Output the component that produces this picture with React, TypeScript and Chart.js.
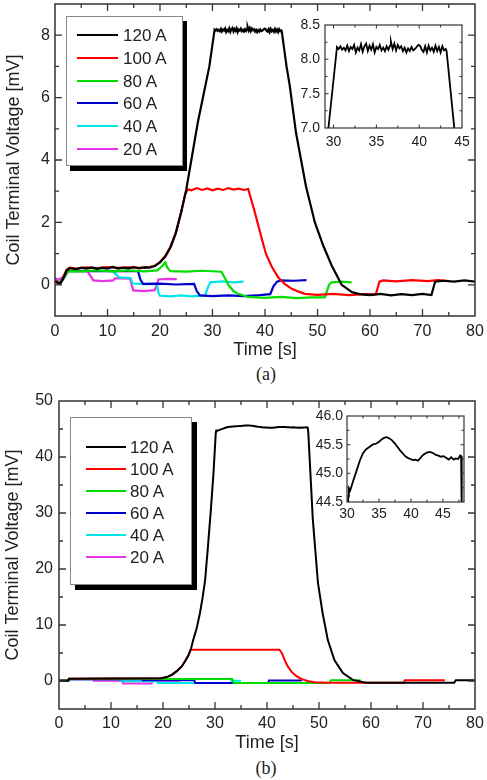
import React, { useEffect, useRef } from "react";
import { Chart, registerables } from "chart.js";
Chart.register(...registerables);

type P = [number, number];

const SERIES_NAMES = ["120 A", "100 A", "80 A", "60 A", "40 A", "20 A"];
const SERIES_COLORS = ["#000000", "#ff0000", "#00dd00", "#0000cc", "#00e5e5", "#e633e6"];

// ---------- panel (a) ----------
const A_120: P[] = [
  [0, 0.12], [0.5, 0.06], [1.0, 0.04], [1.5, 0.18], [2.2, 0.45], [2.8, 0.53], [4, 0.5], [5, 0.55], [6, 0.52],
  [7, 0.56], [8, 0.51], [9, 0.55], [10, 0.52], [11, 0.57], [12, 0.52], [13, 0.55], [14, 0.53], [15, 0.57],
  [16, 0.53], [17, 0.56], [18, 0.55], [19, 0.6], [20, 0.72], [21, 0.9], [22, 1.2], [23, 1.65], [24, 2.3],
  [25, 3.05], [27.2, 5.2], [29.4, 7.0], [30.4, 8.18], [30.6, 8.15], [30.8, 8.19], [31.0, 8.14], [31.2, 8.17],
  [31.4, 8.13], [31.6, 8.2], [31.8, 8.12], [32.0, 8.18], [32.2, 8.15], [32.4, 8.21], [32.6, 8.1], [32.8, 8.17],
  [33.0, 8.13], [33.2, 8.22], [33.4, 8.11], [33.6, 8.19], [33.8, 8.23], [34.0, 8.12], [34.2, 8.2], [34.4, 8.14],
  [34.6, 8.22], [34.8, 8.1], [35.0, 8.18], [35.2, 8.15], [35.4, 8.21], [35.6, 8.13], [35.8, 8.17], [36.0, 8.12],
  [36.2, 8.19], [36.4, 8.14], [36.6, 8.2], [36.7, 8.26], [36.9, 8.15], [37.1, 8.23], [37.3, 8.13], [37.5, 8.21],
  [37.7, 8.16], [37.9, 8.19], [38.1, 8.12], [38.3, 8.17], [38.5, 8.1], [38.7, 8.16], [38.9, 8.12], [39.1, 8.18],
  [39.3, 8.13], [39.5, 8.15], [39.7, 8.18], [39.9, 8.21], [40.1, 8.2], [40.3, 8.14], [40.5, 8.11], [40.7, 8.19],
  [40.9, 8.1], [41.1, 8.2], [41.3, 8.13], [41.5, 8.17], [41.7, 8.11], [41.9, 8.2], [42.1, 8.12], [42.3, 8.18],
  [42.5, 8.1], [42.7, 8.19], [42.9, 8.13], [43.1, 8.15], [43.2, 8.12], [44.1, 7.0], [44.7, 6.4], [45.9, 4.88],
  [47.8, 3.16], [49.5, 2.0], [51.1, 1.25], [52.7, 0.62], [54.6, 0.0], [56.5, -0.23], [58, -0.3], [60, -0.33],
  [62, -0.29], [64, -0.34], [66, -0.3], [68, -0.33], [70, -0.29], [71.7, -0.33], [72.4, 0.1], [74, 0.13],
  [76, 0.1], [78, 0.14], [80, 0.1],
];
const A_100: P[] = [
  [0, 0.15], [0.5, 0.1], [1.0, 0.06], [1.5, 0.22], [2.2, 0.48], [2.8, 0.55], [4, 0.52], [6, 0.56], [8, 0.53],
  [10, 0.57], [12, 0.54], [14, 0.56], [16, 0.54], [18, 0.57], [19, 0.61], [20, 0.73], [21, 0.92], [22, 1.22],
  [23, 1.67], [24, 2.32], [24.8, 2.9], [25.3, 3.06], [26, 3.03], [27, 3.1], [28, 3.04], [29, 3.09], [30, 3.03],
  [31, 3.08], [32, 3.04], [33, 3.1], [34, 3.05], [35, 3.08], [36, 3.04], [36.8, 3.07], [38.1, 2.3], [39.4, 1.47],
  [40.2, 0.98], [41.3, 0.58], [42.5, 0.24], [43.8, 0.02], [45.1, -0.13], [46.4, -0.22], [47.6, -0.29],
  [50, -0.32], [53, -0.29], [56, -0.33], [59, -0.3], [61.1, -0.31], [61.8, 0.1], [62.5, 0.14], [65, 0.11],
  [68, 0.15], [71, 0.12], [73, 0.15], [75, 0.12],
];
const A_80: P[] = [
  [0, 0.1], [1, 0.04], [1.6, 0.2], [2.5, 0.44], [5, 0.43], [8, 0.46], [11, 0.43], [14, 0.46], [17, 0.43],
  [19.5, 0.46], [20.5, 0.62], [21, 0.72], [21.4, 0.55], [22, 0.44], [25, 0.42], [28, 0.45], [31.7, 0.42],
  [32.4, 0.2], [33, 0.0], [34, -0.2], [34.9, -0.29], [36.8, -0.39], [40, -0.42], [43, -0.39], [46, -0.43],
  [49, -0.4], [51.4, -0.4], [52.2, 0.0], [52.7, 0.08], [54.5, 0.1], [56.5, 0.08],
];
const A_60: P[] = [
  [0, 0.1], [1, 0.05], [1.6, 0.2], [2.5, 0.44], [15.8, 0.44], [16.3, 0.15], [16.8, 0.03], [20, 0.04],
  [23, 0.01], [26.5, 0.03], [27, -0.2], [27.6, -0.34], [30, -0.36], [33, -0.34], [36, -0.36], [39, -0.33],
  [41, -0.3], [41.6, -0.05], [42.3, 0.1], [43, 0.14], [45.5, 0.13], [47.9, 0.15],
];
const A_40: P[] = [
  [0, 0.15], [1, 0.1], [1.6, 0.25], [2.5, 0.45], [11, 0.45], [11.5, 0.35], [12.2, 0.24], [14.4, 0.22],
  [14.8, 0.04], [17, 0.02], [19.4, 0.03], [19.7, -0.25], [20, -0.35], [22, -0.37], [24, -0.34], [26, -0.37],
  [28.6, -0.34], [29.2, -0.05], [29.6, 0.08], [32, 0.11], [34, 0.08], [35.9, 0.1],
];
const A_20: P[] = [
  [0, 0.2], [0.8, 0.17], [1.5, 0.25], [2.5, 0.45], [6.2, 0.44], [6.5, 0.35], [7.3, 0.14], [9, 0.12],
  [11.1, 0.14], [11.4, 0.21], [14.3, 0.2], [14.6, 0.0], [14.9, -0.18], [17, -0.2], [19, -0.17], [19.4, 0.0],
  [19.7, 0.17], [21.5, 0.19], [23.2, 0.18],
];

// ---------- panel (b) ----------
const B_120: P[] = [
  [0, 0.05], [1.7, 0.05], [1.9, 0.4], [10, 0.45], [19.7, 0.5], [20.7, 0.7], [21.7, 1.1], [22.7, 1.8],
  [23.6, 2.6], [24.3, 3.6], [24.9, 4.6], [25.4, 5.8], [25.8, 7.3], [26.5, 9.5], [27.1, 12.1], [27.6, 14.8],
  [28.1, 18], [28.6, 23.5], [29.2, 30.5], [29.7, 37], [30.15, 44.3], [30.2, 44.6], [30.3, 44.74], [30.5, 44.7],
  [31.0, 44.88], [31.45, 45.03], [32.0, 45.22], [32.5, 45.35], [33.0, 45.42], [33.5, 45.46], [34.0, 45.5],
  [34.6, 45.52], [35.0, 45.55], [35.4, 45.59], [35.8, 45.62], [36.2, 45.63], [36.6, 45.61], [37.0, 45.58],
  [37.5, 45.52], [37.9, 45.46], [38.3, 45.4], [38.7, 45.35], [39.1, 45.3], [39.5, 45.27], [39.9, 45.25],
  [40.3, 45.23], [40.7, 45.24], [41.1, 45.22], [41.5, 45.27], [41.9, 45.32], [42.3, 45.35], [42.7, 45.37],
  [43.1, 45.37], [43.5, 45.35], [43.9, 45.32], [44.3, 45.31], [44.7, 45.29], [45.1, 45.3], [45.5, 45.27],
  [45.9, 45.24], [46.3, 45.28], [46.7, 45.24], [47.0, 45.26], [47.4, 45.25], [47.7, 45.31], [47.85, 45.3],
  [47.95, 44.2], [48.8, 29], [49.8, 17.5], [50.7, 12.1], [51.7, 7.3], [52.96, 3.75], [54.6, 1.4], [56.5, 0.2],
  [59, -0.3], [76, -0.3], [76.3, 0.15], [80, 0.15],
];
const B_100: P[] = [
  [0, 0.05], [1.7, 0.05], [1.9, 0.4], [10, 0.45], [19.7, 0.5], [20.7, 0.7], [21.7, 1.1], [22.7, 1.8],
  [23.6, 2.6], [24.3, 3.6], [24.9, 4.6], [25.3, 5.6], [33, 5.6], [42.4, 5.6], [42.9, 4.9], [43.4, 3.75],
  [44.0, 2.6], [44.7, 1.67], [45.6, 0.9], [46.6, 0.36], [47.8, 0.0], [49.2, -0.24], [52, -0.3], [66.3, -0.3],
  [66.5, 0.15], [74.2, 0.15],
];
const B_80: P[] = [
  [0, 0.1], [1.8, 0.1], [2.0, 0.35], [20, 0.35], [33.3, 0.35], [33.6, -0.35], [52, -0.35], [52.3, 0.15], [58, 0.15],
];
const B_60: P[] = [
  [0, 0.1], [1.8, 0.1], [2.0, 0.3], [15.9, 0.3], [16.1, 0.15], [26, 0.15], [26.2, -0.35], [40.2, -0.35],
  [40.4, 0.1], [46.7, 0.1],
];
const B_40: P[] = [
  [0, 0.05], [1.9, 0.05], [2.1, 0.3], [11.8, 0.3], [12.0, -0.05], [18.8, -0.05], [19.0, -0.35], [33.0, -0.35],
  [33.2, 0.05], [35, 0.05],
];
const B_20: P[] = [
  [0, 0], [1.9, 0], [2.1, 0.3], [6.5, 0.3], [6.7, 0.05], [12.1, 0.05], [12.3, -0.45], [17.8, -0.45],
  [18.0, 0.05], [23.2, 0.05],
];

// ---------- ticks ----------
const MAIN_X_MAJOR = [0, 10, 20, 30, 40, 50, 60, 70, 80];
const MAIN_X_MINOR = [5, 15, 25, 35, 45, 55, 65, 75];
const A_Y_MAJOR = [0, 2, 4, 6, 8];
const A_Y_MINOR = [1, 3, 5, 7];
const AI_X_MAJOR = [30, 35, 40, 45];
const AI_X_MINOR = [32.5, 37.5, 42.5];
const AI_Y_MAJOR = [7.0, 7.5, 8.0, 8.5];
const AI_Y_MINOR = [7.25, 7.75, 8.25];
const B_Y_MAJOR = [0, 10, 20, 30, 40, 50];
const B_Y_MINOR = [5, 15, 25, 35, 45];
const BI_X_MAJOR = [30, 35, 40, 45];
const BI_X_MINOR = [32.5, 37.5, 42.5, 47.5];
const BI_Y_MAJOR = [44.5, 45.0, 45.5, 46.0];
const BI_Y_MINOR = [44.75, 45.25, 45.75];

const FONT = "'Liberation Sans', Arial, Helvetica, sans-serif";
const TEXT = "#222";
Chart.defaults.font.family = FONT;

interface AxisSpec {
  min: number; max: number; major: number[]; minor: number[]; dec: number;
  size: number; pad: number; fit: number; title?: string; titlePad?: number;
}

function makeScale(axis: "x" | "y", s: AxisSpec): any {
  return {
    type: "linear",
    position: axis === "x" ? "bottom" : "left",
    min: s.min,
    max: s.max,
    grid: { display: false, drawTicks: false },
    border: { display: false },
    afterBuildTicks: (sc: any) => {
      sc.ticks = [...s.major, ...s.minor].sort((a, b) => a - b).map((v) => ({ value: v }));
    },
    afterFit: (sc: any) => {
      if (axis === "x") sc.height = s.fit;
      else sc.width = s.fit;
      sc.paddingTop = 0; sc.paddingBottom = 0; sc.paddingLeft = 0; sc.paddingRight = 0;
    },
    ticks: {
      autoSkip: false, maxRotation: 0, minRotation: 0, padding: s.pad, color: TEXT,
      font: { size: s.size },
      callback: (v: number) => (s.major.includes(v) ? v.toFixed(s.dec) : ""),
    },
    title: s.title
      ? { display: true, text: s.title, color: TEXT, font: { size: 18 }, padding: { top: s.titlePad ?? 0, bottom: s.titlePad ?? 0 } }
      : { display: false },
  };
}

function framePlugin(major: number, minor: number, lw: number, bg: boolean) {
  return {
    id: "frameTicks",
    beforeDatasetsDraw(chart: any) {
      if (!bg) return;
      const a = chart.chartArea;
      const ctx = chart.ctx;
      ctx.save();
      ctx.fillStyle = "#ffffff";
      ctx.fillRect(a.left, a.top, a.right - a.left, a.bottom - a.top);
      ctx.restore();
    },
    afterDatasetsDraw(chart: any) {
      const { ctx, chartArea: a, scales } = chart;
      ctx.save();
      ctx.strokeStyle = "#333";
      ctx.lineWidth = lw * 0.85;
      ctx.beginPath();
      const xs = scales.x, ys = scales.y;
      for (const t of xs.ticks) {
        const p = xs.getPixelForValue(t.value);
        if (p <= a.left + 1 || p >= a.right - 1) continue;
        const L = t.label ? major : minor;
        ctx.moveTo(p, a.bottom); ctx.lineTo(p, a.bottom - L);
        ctx.moveTo(p, a.top); ctx.lineTo(p, a.top + L);
      }
      for (const t of ys.ticks) {
        const p = ys.getPixelForValue(t.value);
        if (p <= a.top + 1 || p >= a.bottom - 1) continue;
        const L = t.label ? major : minor;
        ctx.moveTo(a.left, p); ctx.lineTo(a.left + L, p);
        ctx.moveTo(a.right, p); ctx.lineTo(a.right - L, p);
      }
      ctx.stroke();
      ctx.lineWidth = lw;
      ctx.strokeRect(a.left, a.top, a.right - a.left, a.bottom - a.top);
      ctx.restore();
    },
  };
}

const ds = (pts: P[], color: string, w: number) => ({
  data: pts.map(([x, y]) => ({ x, y })),
  borderColor: color,
  backgroundColor: color,
  borderWidth: w,
  pointRadius: 0,
  tension: 0,
  fill: false,
});

interface ChartSpec {
  series: P[][];
  lw: number;
  pad: { left: number; top: number; right: number; bottom: number };
  x: AxisSpec;
  y: AxisSpec;
  tickMajor: number;
  tickMinor: number;
  frameLw: number;
  bg: boolean;
}

function buildConfig(spec: ChartSpec): any {
  return {
    type: "line",
    data: { datasets: spec.series.map((s, i) => ds(s, SERIES_COLORS[i], spec.lw)) },
    options: {
      responsive: false,
      maintainAspectRatio: false,
      animation: false,
      devicePixelRatio: 1,
      events: [],
      layout: { padding: spec.pad },
      plugins: { legend: { display: false }, tooltip: { enabled: false } },
      scales: { x: makeScale("x", spec.x), y: makeScale("y", spec.y) },
    },
    plugins: [framePlugin(spec.tickMajor, spec.tickMinor, spec.frameLw, spec.bg)],
  };
}

function ChartCanvas(props: { left: number; top: number; width: number; height: number; spec: ChartSpec }) {
  const ref = useRef<HTMLCanvasElement>(null);
  useEffect(() => {
    const c = new Chart(ref.current as HTMLCanvasElement, buildConfig(props.spec));
    return () => c.destroy();
  }, []);
  return (
    <canvas
      ref={ref}
      width={props.width}
      height={props.height}
      style={{ position: "absolute", left: props.left, top: props.top, width: props.width, height: props.height }}
    />
  );
}

function Legend(props: {
  left: number; top: number; width: number; height: number; shadow: string;
  rowY: number[]; lineX1: number; lineX2: number; textX: number;
}) {
  const { left, top, width, height, shadow, rowY, lineX1, lineX2, textX } = props;
  return (
    <div
      style={{
        position: "absolute", left, top, width, height, boxSizing: "border-box",
        border: "1px solid #888", background: "#fff", boxShadow: shadow,
      }}
    >
      {SERIES_NAMES.map((name, i) => (
        <React.Fragment key={name}>
          <div
            style={{
              position: "absolute", left: lineX1 - left - 1, top: Math.round(rowY[i] - top - 2),
              width: lineX2 - lineX1, height: 2, background: SERIES_COLORS[i],
            }}
          />
          <div
            style={{
              position: "absolute", left: textX - left - 1, top: Math.round(rowY[i] - top - 11), height: 22,
              lineHeight: "22px", fontSize: 17, fontFamily: FONT, color: TEXT, whiteSpace: "nowrap",
            }}
          >
            {name}
          </div>
        </React.Fragment>
      ))}
    </div>
  );
}

const SPEC_A: ChartSpec = {
  series: [A_120, A_100, A_80, A_60, A_40, A_20],
  lw: 2.2,
  pad: { left: 0, top: 4, right: 12, bottom: 0 },
  x: { min: 0, max: 80, major: MAIN_X_MAJOR, minor: MAIN_X_MINOR, dec: 0, size: 16, pad: 6, fit: 45, title: "Time [s]", titlePad: 0 },
  y: { min: -1, max: 9, major: A_Y_MAJOR, minor: A_Y_MINOR, dec: 0, size: 16, pad: 5, fit: 55, title: "Coil Terminal Voltage [mV]", titlePad: 3 },
  tickMajor: 7, tickMinor: 4, frameLw: 1.5, bg: false,
};
const SPEC_AI: ChartSpec = {
  series: [A_120],
  lw: 1.8,
  pad: { left: 0, top: 17, right: 13, bottom: 0 },
  x: { min: 29, max: 45, major: AI_X_MAJOR, minor: AI_X_MINOR, dec: 0, size: 14, pad: 6, fit: 32 },
  y: { min: 7, max: 8.5, major: AI_Y_MAJOR, minor: AI_Y_MINOR, dec: 1, size: 14, pad: 5, fit: 40 },
  tickMajor: 3.5, tickMinor: 2.5, frameLw: 1.2, bg: true,
};
const SPEC_B: ChartSpec = {
  series: [B_120, B_100, B_80, B_60, B_40, B_20],
  lw: 2,
  pad: { left: 0, top: 21, right: 12, bottom: 0 },
  x: { min: 0, max: 80, major: MAIN_X_MAJOR, minor: MAIN_X_MINOR, dec: 0, size: 16, pad: 5, fit: 45, title: "Time [s]", titlePad: 0 },
  y: { min: -5, max: 50, major: B_Y_MAJOR, minor: B_Y_MINOR, dec: 0, size: 16, pad: 6, fit: 59, title: "Coil Terminal Voltage [mV]", titlePad: 2 },
  tickMajor: 7, tickMinor: 4, frameLw: 1.5, bg: false,
};
const SPEC_BI: ChartSpec = {
  series: [B_120],
  lw: 1.8,
  pad: { left: 0, top: 18, right: 13, bottom: 0 },
  x: { min: 30, max: 48.3, major: BI_X_MAJOR, minor: BI_X_MINOR, dec: 0, size: 14, pad: 4, fit: 28 },
  y: { min: 44.5, max: 46, major: BI_Y_MAJOR, minor: BI_Y_MINOR, dec: 1, size: 14, pad: 4, fit: 47 },
  tickMajor: 3.5, tickMinor: 2.5, frameLw: 1.2, bg: true,
};

export default function App() {
  return (
    <div style={{ position: "absolute", left: 0, top: 0, width: 487, height: 780, background: "#fff", overflow: "hidden" }}>
      <ChartCanvas left={0} top={0} width={487} height={361} spec={SPEC_A} />
      <ChartCanvas left={285} top={8} width={190} height={152} spec={SPEC_AI} />
      <Legend
        left={66} top={16} width={117} height={150} shadow="4px 5px 0 #000"
        rowY={[35, 58, 80.5, 103, 126, 148.5]} lineX1={77} lineX2={118} textX={123}
      />
      <div style={{ position: "absolute", left: 236, top: 362, width: 60, textAlign: "center", fontFamily: "'Liberation Serif', 'Times New Roman', serif", fontSize: 18, lineHeight: "24px", color: TEXT }}>
        (a)
      </div>

      <ChartCanvas left={0} top={380} width={487} height={374} spec={SPEC_B} />
      <ChartCanvas left={300} top={398} width={177} height={132} spec={SPEC_BI} />
      <Legend
        left={70} top={417} width={122} height={168} shadow="5px 5px 0 #000"
        rowY={[447.3, 469.2, 491.1, 513, 534.9, 556.8]} lineX1={86} lineX2={126} textX={130}
      />
      <div style={{ position: "absolute", left: 236, top: 756, width: 60, textAlign: "center", fontFamily: "'Liberation Serif', 'Times New Roman', serif", fontSize: 18, lineHeight: "24px", color: TEXT }}>
        (b)
      </div>
    </div>
  );
}
